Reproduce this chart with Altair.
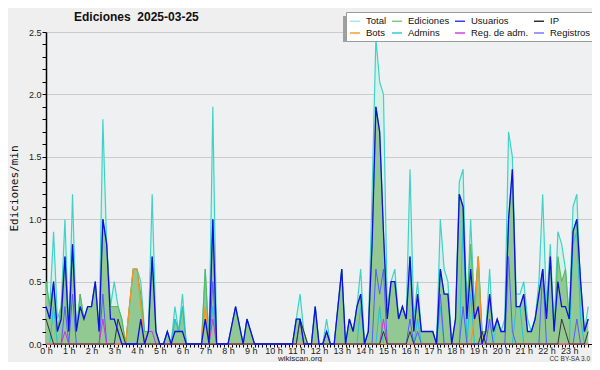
import altair as alt
import pandas as pd

# ---------------- data (edits per minute, one value per 10 minutes) ----------------
series_names = ["Total", "Ediciones", "Usuarios", "IP", "Bots", "Admins", "Reg. de adm.", "Registros"]
legend_colors = ["#a6e9e3", "#80cf80", "#3b3bf5", "#333333", "#ff9a33", "#33c9dc", "#d43fe6", "#7878ff"]

title_text = ["Ediciones \u00a02025-03-25"]
y_title = "Ediciones/min"
footer_left = ["wikiscan.org"]
footer_right = ["CC BY-SA 3.0"]

total = [
    0.5, 0.3, 0.9, 0.2, 0.3, 1.0,
    0.1, 1.2, 0.1, 0.4, 0.2, 0.3,
    0.3, 0.5, 0.1, 1.8, 0.8, 0.3,
    0.5, 0.3, 0.2, 0.0, 0.3, 0.6,
    0.6, 0.5, 0.1, 0.1, 1.2, 0.1,
    0.0, 0.0, 0.1, 0.0, 0.3, 0.1,
    0.4, 0.0, 0.0, 0.0, 0.0, 0.0,
    0.6, 0.0, 1.9, 0.0, 0.0, 0.0,
    0.0, 0.15, 0.3, 0.15, 0.0, 0.2,
    0.1, 0.0, 0.0, 0.0, 0.0, 0.0,
    0.0, 0.0, 0.0, 0.0, 0.0, 0.0,
    0.2, 0.4, 0.1, 0.0, 0.0, 0.3,
    0.0, 0.0, 0.2, 0.0, 0.0, 0.3,
    0.6, 0.0, 0.2, 0.1, 0.3, 0.6,
    0.0, 0.1, 1.2, 2.45, 2.1, 2.0,
    0.3, 0.5, 0.6, 0.2, 0.3, 0.2,
    1.4, 0.2, 0.5, 0.1, 0.1, 0.1,
    0.1, 0.0, 1.0, 0.6, 0.5, 0.0,
    0.2, 1.3, 1.4, 0.2, 1.0, 0.3,
    0.7, 0.1, 0.1, 0.6, 0.0, 0.2,
    0.1, 0.2, 1.7, 1.5, 0.4, 0.4,
    0.5, 0.2, 0.1, 0.2, 0.5, 1.2,
    0.3, 0.8, 0.1, 0.9, 0.8, 0.6,
    0.2, 1.1, 1.2, 0.4, 0.1, 0.3,
]
ediciones = [
    0.5, 0.3, 0.5, 0.1, 0.3, 0.7,
    0.1, 0.8, 0.1, 0.4, 0.2, 0.3,
    0.3, 0.5, 0.1, 1.0, 0.8, 0.3,
    0.3, 0.3, 0.2, 0.0, 0.3, 0.6,
    0.6, 0.4, 0.1, 0.1, 0.7, 0.1,
    0.0, 0.0, 0.1, 0.0, 0.2, 0.1,
    0.3, 0.0, 0.0, 0.0, 0.0, 0.0,
    0.6, 0.0, 1.0, 0.0, 0.0, 0.0,
    0.0, 0.15, 0.3, 0.15, 0.0, 0.2,
    0.1, 0.0, 0.0, 0.0, 0.0, 0.0,
    0.0, 0.0, 0.0, 0.0, 0.0, 0.0,
    0.2, 0.2, 0.1, 0.0, 0.0, 0.3,
    0.0, 0.0, 0.1, 0.0, 0.0, 0.3,
    0.6, 0.0, 0.2, 0.1, 0.3, 0.4,
    0.0, 0.1, 0.8, 1.9, 1.7, 0.9,
    0.2, 0.5, 0.5, 0.2, 0.3, 0.2,
    0.7, 0.1, 0.4, 0.1, 0.1, 0.1,
    0.1, 0.0, 0.6, 0.4, 0.4, 0.0,
    0.2, 1.2, 1.1, 0.3, 0.8, 0.3,
    0.7, 0.1, 0.1, 0.4, 0.1, 0.2,
    0.1, 0.1, 1.0, 1.4, 0.3, 0.3,
    0.4, 0.1, 0.1, 0.2, 0.4, 0.6,
    0.2, 0.7, 0.1, 0.7, 0.5, 0.6,
    0.2, 0.9, 1.0, 0.5, 0.1, 0.2,
]
usuarios = [
    0.3, 0.2, 0.5, 0.1, 0.2, 0.7,
    0.1, 0.8, 0.1, 0.3, 0.2, 0.3,
    0.3, 0.5, 0.1, 1.0, 0.8, 0.2,
    0.2, 0.1, 0.0, 0.0, 0.0, 0.0,
    0.0, 0.2, 0.0, 0.1, 0.7, 0.1,
    0.0, 0.0, 0.1, 0.0, 0.1, 0.1,
    0.1, 0.0, 0.0, 0.0, 0.0, 0.0,
    0.2, 0.0, 1.0, 0.0, 0.0, 0.0,
    0.0, 0.15, 0.3, 0.15, 0.0, 0.2,
    0.1, 0.0, 0.0, 0.0, 0.0, 0.0,
    0.0, 0.0, 0.0, 0.0, 0.0, 0.0,
    0.2, 0.2, 0.0, 0.0, 0.0, 0.3,
    0.0, 0.0, 0.1, 0.0, 0.0, 0.3,
    0.6, 0.0, 0.2, 0.1, 0.3, 0.4,
    0.0, 0.1, 0.8, 1.9, 1.7, 0.9,
    0.2, 0.5, 0.5, 0.2, 0.3, 0.2,
    0.7, 0.1, 0.4, 0.1, 0.1, 0.1,
    0.1, 0.0, 0.6, 0.4, 0.4, 0.0,
    0.2, 1.2, 1.1, 0.2, 0.6, 0.2,
    0.3, 0.0, 0.1, 0.4, 0.1, 0.2,
    0.1, 0.1, 1.0, 1.4, 0.3, 0.3,
    0.4, 0.1, 0.1, 0.2, 0.4, 0.6,
    0.2, 0.7, 0.1, 0.5, 0.3, 0.3,
    0.2, 0.9, 1.0, 0.5, 0.1, 0.2,
]
ip = [0.0] * 144
for i, v in {0: 0.2, 1: 0.1, 19: 0.2, 20: 0.1, 67: 0.2, 68: 0.1, 89: 0.1,
             96: 0.1, 115: 0.1, 136: 0.2, 137: 0.1, 143: 0.1}.items():
    ip[i] = v
bots = [0.0] * 144
for i, v in {22: 0.3, 23: 0.6, 24: 0.6, 25: 0.3, 42: 0.3, 113: 0.2, 114: 0.7}.items():
    bots[i] = v
admins = [0.0] * 144
for i, v in {2: 0.3, 32: 0.1, 34: 0.2, 35: 0.1, 36: 0.3, 44: 0.3, 83: 0.3, 88: 0.3,
             98: 0.2, 104: 0.3, 110: 1.0, 112: 0.4, 124: 0.3, 125: 0.3, 139: 0.8,
             140: 0.9, 141: 0.2}.items():
    admins[i] = v
reg_adm = [0.0] * 144
for i, v in {5: 0.1, 15: 0.2, 27: 0.1, 28: 0.1, 44: 0.2, 89: 0.2}.items():
    reg_adm[i] = v
registros = [0.0] * 144
for i, v in {5: 0.3, 7: 0.4, 15: 0.4, 44: 0.5, 67: 0.2, 74: 0.1, 87: 0.6, 88: 0.4,
             89: 0.6, 96: 0.2, 98: 0.1, 104: 0.4, 110: 0.3, 117: 0.2, 122: 0.7,
             123: 0.1, 131: 0.6, 140: 0.2}.items():
    registros[i] = v

values = [total, ediciones, usuarios, ip, bots, admins, reg_adm, registros]
rows = []
for name, vals in zip(series_names, values):
    for i, v in enumerate(vals):
        rows.append({"t": i / 6, "v": v, "serie": name})
df = pd.DataFrame(rows)

y_ticks = [round(0.1 * k, 1) for k in range(26)]
x_ticks = [k / 6 for k in range(145)]

FONT = "Liberation Sans"
major_test = "abs(datum.value*2 - round(datum.value*2)) < 0.001"

X = alt.X("t:Q", scale=alt.Scale(domain=[0, 24], nice=False, zero=False),
          axis=alt.Axis(values=x_ticks, grid=False, title=None,
                        labelExpr="abs(datum.value - round(datum.value)) < 0.001 && datum.value < 23.5 ? round(datum.value) + ' h' : ''",
                        labelOverlap=False, labelFlush=False, labelBound=False,
                        tickSize=3, tickColor="#000", domainColor="#000",
                        labelPadding=-1, labelFont=FONT, labelFontSize=9,
                        labelColor="#222"))
Y = alt.Y("v:Q", scale=alt.Scale(domain=[0, 2.5], nice=False),
          axis=alt.Axis(values=y_ticks, title=y_title,
                        labelExpr=major_test + " ? format(datum.value, '.1f') : ''",
                        gridColor={"condition": {"test": major_test + " && datum.value > 0.01",
                                                 "value": "#cbcbcb"},
                                   "value": "rgba(0,0,0,0)"},
                        labelOverlap=False, labelFlush=False, labelBound=False,
                        tickSize=4, tickColor="#000", domainColor="#000", domainWidth=1.5,
                        labelPadding=1, labelFont=FONT, labelFontSize=9, labelColor="#222",
                        titleFont="DejaVu Sans Mono", titleFontSize=11, titleFontWeight="normal",
                        titleColor="#111", titleX=-32, titleY=156, titleBaseline="middle",
                        titleAngle=270))

def sel(name):
    return alt.Chart(df).transform_filter(alt.datum.serie == name)

area_total = sel("Total").mark_area(color="#d5f1ea", interpolate="linear").encode(x=X, y=Y)
area_edic = sel("Ediciones").mark_area(color="#92c992", interpolate="linear").encode(x=X, y=Y)

line_specs = [
    ("Total", "#3fd3c8", 1.2),
    ("Ediciones", "#5ab75a", 1.0),
    ("Admins", "#1fc3dc", 1.0),
    ("Registros", "#5a5aff", 1.0),
    ("Reg. de adm.", "#cc33e0", 1.0),
    ("Bots", "#ff9020", 1.2),
    ("IP", "#333333", 1.0),
    ("Usuarios", "#0f0fe0", 1.3),
]
lines = [sel(n).mark_line(color=c, strokeWidth=w, interpolate="linear").encode(x=X, y=Y)
         for n, c, w in line_specs]

legend_layer = alt.Chart(df).transform_filter("datum.v < 0").mark_line(strokeWidth=1.5).encode(
    x=X, y=Y,
    color=alt.Color("serie:N", scale=alt.Scale(domain=series_names, range=legend_colors),
                    legend=alt.Legend(title=None, orient="none", legendX=300, legendY=-20,
                                      columns=4, direction="horizontal",
                                      fillColor="#ffffff", strokeColor="#9a9a9a",
                                      padding=3, rowPadding=1, columnPadding=2,
                                      labelFont=FONT, labelFontSize=9.5, labelColor="#111",
                                      labelOffset=5, labelLimit=200,
                                      symbolType="stroke", symbolSize=100,
                                      symbolStrokeWidth=1.5, symbolOpacity=1)))

shadow = alt.Chart(alt.Data(values=[{"k": 1}])).mark_rect(color="#a0a0a0").encode(
    x=alt.value(297), x2=alt.value(542), y=alt.value(-16), y2=alt.value(10))

title_layer = alt.Chart(alt.Data(values=[{"label": s} for s in title_text])).mark_text(
    align="left", baseline="alphabetic", font=FONT, fontSize=12, fontWeight="bold",
    color="#111").encode(x=alt.value(28), y=alt.value(-11), text="label:N")
foot_l = alt.Chart(alt.Data(values=[{"label": s} for s in footer_left])).mark_text(
    align="center", baseline="alphabetic", font=FONT, fontSize=8, color="#222").encode(
    x=alt.value(254), y=alt.value(328.5), text="label:N")
foot_r = alt.Chart(alt.Data(values=[{"label": s} for s in footer_right])).mark_text(
    align="right", baseline="alphabetic", font=FONT, fontSize=6.5, color="#333").encode(
    x=alt.value(544), y=alt.value(329), text="label:N")

chart = alt.layer(area_total, area_edic, *lines, legend_layer, shadow,
                  title_layer, foot_l, foot_r).properties(
    width=546, height=312,
    autosize=alt.AutoSizeParams(type="none"),
    padding={"left": 38, "top": 24, "right": 0, "bottom": 18},
    background="#efefef",
).configure_view(fill="#eff0f2", stroke="transparent")

chart.save("out.html", embed_options={"renderer": "svg", "actions": False})
